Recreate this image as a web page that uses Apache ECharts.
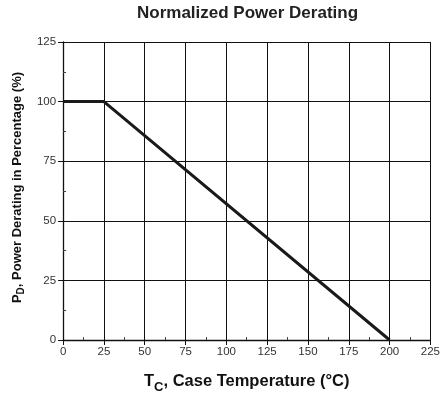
<!DOCTYPE html>
<html>
<head>
<meta charset="utf-8">
<title>Normalized Power Derating</title>
<script src="https://cdn.jsdelivr.net/npm/echarts@6/dist/echarts.min.js"></script>
<style>
  html, body { margin: 0; padding: 0; background: #fff; }
  #chart { width: 443px; height: 402px; }
</style>
</head>
<body>
<div id="chart"></div>
<script>
// data
const caseTemp = [0, 25, 200];
const derating = [100, 100, 0];
const xTicks = [0, 25, 50, 75, 100, 125, 150, 175, 200, 225];
const yTicks = [0, 25, 50, 75, 100, 125];

const font = 'Liberation Sans, Arial, Helvetica, sans-serif';

const chart = echarts.init(document.getElementById('chart'));

chart.setOption({
  animation: false,
  title: {
    text: 'Normalized Power Derating',
    left: 137,
    top: 5,
    padding: 0,
    textStyle: { fontFamily: font, fontSize: 17, fontWeight: 'bold', color: '#222' }
  },
  grid: { left: 62, right: 12, top: 42, bottom: 62 },
  xAxis: {
    type: 'value',
    min: xTicks[0],
    max: xTicks[xTicks.length - 1],
    interval: 25,
    name: '{m|T}{s|C}{m|, Case Temperature (°C)}',
    nameLocation: 'middle',
    nameGap: 30,
    nameTextStyle: {
      rich: {
        m: { fontFamily: font, fontSize: 16.5, fontWeight: 'bold', color: '#111', lineHeight: 22 },
        s: { fontFamily: font, fontSize: 13, fontWeight: 'bold', color: '#111', lineHeight: 22, padding: [12, 0, 0, 0] }
      }
    },
    axisLine: { lineStyle: { color: '#111', width: 1.3 } },
    axisTick: { length: 5, lineStyle: { color: '#111' } },
    minorTick: { show: true, splitNumber: 2, length: -3, lineStyle: { color: '#444' } },
    axisLabel: { fontFamily: font, fontSize: 11.5, color: '#333', margin: 6 },
    splitLine: { lineStyle: { color: '#111', width: 1 } }
  },
  yAxis: {
    type: 'value',
    min: yTicks[0],
    max: yTicks[yTicks.length - 1],
    interval: 25,
    name: '{m|P}{s|D}{m|, Power Derating in Percentage (%)}',
    nameLocation: 'middle',
    nameRotate: 90,
    nameGap: 37,
    nameTextStyle: {
      padding: [0, 0, 0, 7],
      rich: {
        m: { fontFamily: font, fontSize: 13, fontWeight: 'bold', color: '#111', lineHeight: 17 },
        s: { fontFamily: font, fontSize: 10, fontWeight: 'bold', color: '#111', lineHeight: 17, padding: [8, 0, 0, 0] }
      }
    },
    axisLine: { show: true, lineStyle: { color: '#111', width: 1.3 } },
    axisTick: { show: true, length: 5, lineStyle: { color: '#111' } },
    minorTick: { show: true, splitNumber: 2, length: -3, lineStyle: { color: '#444' } },
    axisLabel: { fontFamily: font, fontSize: 11.5, color: '#333', margin: 7 },
    splitLine: { lineStyle: { color: '#111', width: 1 } }
  },
  series: [{
    type: 'line',
    data: caseTemp.map((t, i) => [t, derating[i]]),
    symbol: 'none',
    lineStyle: { color: '#1a1a1a', width: 3 }
  }]
});
</script>
</body>
</html>
